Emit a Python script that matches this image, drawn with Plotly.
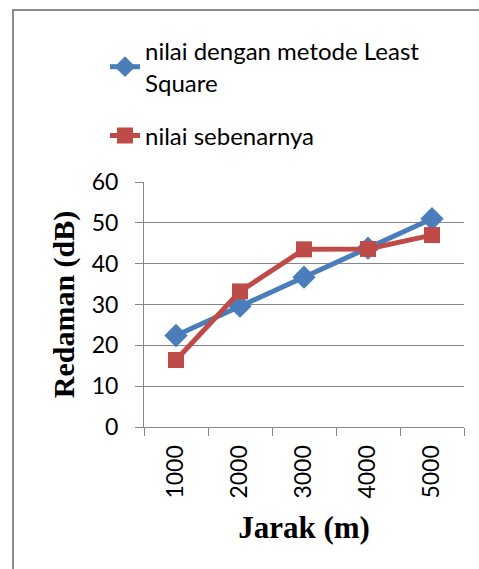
import plotly.graph_objects as go

categories = ["1000", "2000", "3000", "4000", "5000"]
least_square = [22.4, 29.6, 36.7, 43.8, 51.0]
sebenarnya = [16.4, 33.2, 43.5, 43.6, 47.0]
y_ticks = [0, 10, 20, 30, 40, 50, 60]

W, H = 479, 569
L, R, T, B = 144, 15, 182, 142
pw, ph = W - L - R, H - T - B

def px(x):
    return (x - L) / pw

def py(y):
    return (H - B - y) / ph

fig = go.Figure()
fig.add_trace(go.Scatter(
    x=categories, y=least_square, mode="lines+markers",
    name="nilai dengan metode Least<br>Square",
    line=dict(color="#4A7EBB", width=5),
    marker=dict(symbol="diamond", size=18, color="#4A7EBB"),
    legendgroup="a",
))
fig.add_trace(go.Scatter(
    x=categories, y=sebenarnya, mode="lines+markers",
    name="nilai sebenarnya",
    line=dict(color="#BE4B48", width=5),
    marker=dict(symbol="square", size=16, color="#BE4B48"),
    legendgroup="b",
))

font = "Lato, 'Open Sans', sans-serif"
serif = "'Liberation Serif', 'Times New Roman', serif"
fig.update_layout(
    width=W, height=H,
    margin=dict(l=L, r=R, t=T, b=B),
    paper_bgcolor="white", plot_bgcolor="white",
    font=dict(family=font, color="black", size=23),
    showlegend=True,
    legend=dict(
        x=px(105), y=py(29), xanchor="left", yanchor="top",
        font=dict(family=font, size=24, color="black"),
        bgcolor="rgba(0,0,0,0)", tracegroupgap=19,
    ),
    xaxis=dict(
        type="category", tickangle=-90, tickson="boundaries",
        ticks="outside", ticklen=8, tickcolor="#868686",
        ticklabelstandoff=8,
        showline=True, linecolor="#868686", linewidth=1,
        showgrid=False, tickfont=dict(family=font, size=23),
        title=dict(text="<b>Jarak (m)</b>", font=dict(family=serif, size=31),
                   standoff=18),
        range=[-0.5, 4.5],
    ),
    yaxis=dict(
        range=[0, 60], tickvals=y_ticks, ticks="outside", ticklen=8,
        tickcolor="#868686", showline=True, linecolor="#868686", linewidth=1,
        ticklabelstandoff=12,
        showgrid=True, gridcolor="#868686", gridwidth=1, zeroline=False,
        tickfont=dict(family=font, size=23),
        title=dict(text="<b>Redaman (dB)</b>", font=dict(family=serif, size=30),
                   standoff=8),
    ),
    shapes=[dict(
        type="rect", xref="paper", yref="paper",
        x0=px(13), x1=px(500), y0=py(600), y1=py(10),
        line=dict(color="#8C8C8C", width=2), fillcolor="rgba(0,0,0,0)", layer="below",
    )],
)

fig.write_html("out.html", config={"displayModeBar": False},
               post_script="document.body.style.margin='0';document.body.style.overflow='hidden';")
